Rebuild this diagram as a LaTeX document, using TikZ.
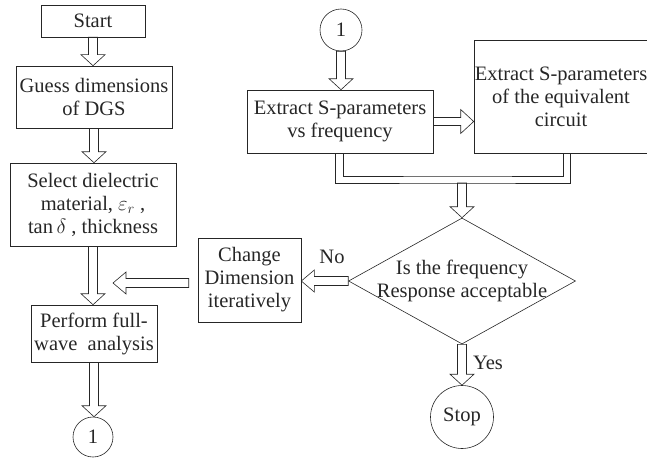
\documentclass[tikz,border=0pt]{standalone}
\usepackage{amsmath}
\usepackage{amssymb}
\usepackage{fontspec}
\setmainfont{Liberation Serif}
\usepackage{tikz}
\usetikzlibrary{calc,shapes.geometric}

%%% hollow block arrows, drawn between two points (canvas coordinates)
\newcommand{\arrowdown}[2]{\draw let \p1=(#1), \p2=(#2) in
  (\x1-4.5pt,\y1) -- (\x1-4.5pt,\y2+11pt) -- (\x1-12pt,\y2+11pt) -- (\x1,\y2)
  -- (\x1+12pt,\y2+11pt) -- (\x1+4.5pt,\y2+11pt) -- (\x1+4.5pt,\y1) -- cycle;}
\newcommand{\arrowleft}[2]{\draw let \p1=(#1), \p2=(#2) in
  (\x1,\y1+4.5pt) -- (\x2+13pt,\y1+4.5pt) -- (\x2+13pt,\y1+11pt) -- (\x2,\y1)
  -- (\x2+13pt,\y1-11pt) -- (\x2+13pt,\y1-4.5pt) -- (\x1,\y1-4.5pt) -- cycle;}
\newcommand{\arrowright}[2]{\draw let \p1=(#1), \p2=(#2) in
  (\x1,\y1+4pt) -- (\x2-13pt,\y1+4pt) -- (\x2-13pt,\y1+12pt) -- (\x2,\y1)
  -- (\x2-13pt,\y1-12pt) -- (\x2-13pt,\y1-4pt) -- (\x1,\y1-4pt) -- cycle;}

\begin{document}
\begin{tikzpicture}[x=1pt, y=-1pt, line width=0.6pt, color=black!85,
    every node/.style={font=\fontsize{20.5}{23}\selectfont, text=black!85, inner sep=0pt},
    stepbox/.style={draw, rectangle, align=center},
    joint/.style={draw, circle},
    test/.style={draw, diamond}] %%% y axis points down, units are pixels of the reference
  \useasboundingbox (0,0) rectangle (647,460);
  %%% left column
  \node[stepbox, minimum width=104, minimum height=32] (start) at (93,21) {Start};
  \node[stepbox, minimum width=156, minimum height=62] (guess) at (94,97) {Guess dimensions\\of DGS};
  \node[stepbox, minimum width=166, minimum height=83] (select) at (93,204.5)
       {Select dielectric\\material, $\varepsilon_r$ ,\\$\tan\delta$ , thickness};
  \node[stepbox, minimum width=126, minimum height=57] (perform) at (94,333.5) {Perform full-\\wave~ analysis};
  \node[joint, minimum size=40] (jointout) at (93,437) {1};
  %%% right column
  \node[joint, minimum size=42] (jointin) at (341,30) {1};
  \node[stepbox, minimum width=186, minimum height=63] (extract) at (340,121.5)
       {Extract S-parameters\\vs frequency};
  \node[stepbox, minimum width=174, minimum height=113] (circuit) at (561,96.5)
       {Extract S-parameters\\of the equivalent\\circuit};
  \node[test, minimum width=227, minimum height=126, aspect=1.8,
        label={[align=center]center:Is the frequency\\Response acceptable}] (accept) at (462,281) {};
  \node[stepbox, minimum width=103, minimum height=84] (change) at (249.5,280) {Change\\Dimension\\iteratively};
  \node[joint, minimum size=63] (stop) at (462,417) {Stop};
  \node (no) at (332,257) {No};
  \node (yes) at (488,363) {Yes};
  \coordinate (merge) at (462,183);
  \coordinate (retry) at (113,283);
  %%% arrows of the left column
  \arrowdown{start.south}{guess.north}
  \arrowdown{guess.south}{select.north}
  \arrowdown{select.south}{perform.north}
  \arrowdown{perform.south}{jointout.north}
  %%% arrows of the right column
  \arrowdown{jointin.south}{extract.north}
  \arrowright{extract.east}{circuit.west |- extract.east}
  \draw ($(extract.south)+(-5,0)$) |- (merge) -| ($(circuit.south)+(9,0)$);
  \draw ($(extract.south)+(3,0)$) |- ($(merge)+(0,-7)$) -| ($(circuit.south)+(2,0)$);
  \arrowdown{merge}{accept.north}
  \arrowdown{accept.south}{stop.north}
  \arrowleft{accept.west}{change.east}
  \arrowleft{$(change.west)+(-9,3)$}{retry}
\end{tikzpicture}
\end{document}
